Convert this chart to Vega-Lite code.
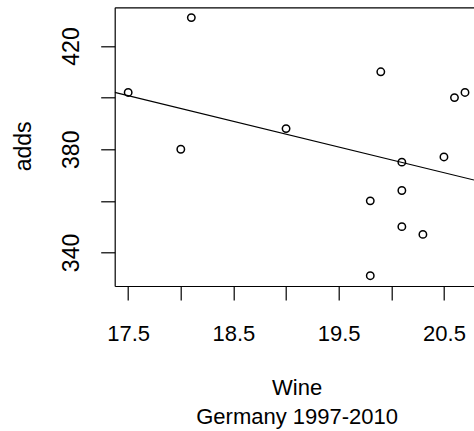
{
  "$schema": "https://vega.github.io/schema/vega-lite/v6.json",
  "width": 359.3,
  "height": 278.7,
  "autosize": {"type": "none"},
  "padding": {"left": 114.7, "top": 7.3, "right": 0, "bottom": 145},
  "background": "white",
  "config": {
    "view": {"stroke": null},
    "font": "Liberation Sans",
    "axis": {
      "grid": false,
      "domainColor": "#000000",
      "domainWidth": 1.2,
      "tickColor": "#000000",
      "tickWidth": 1.2,
      "labelColor": "#000000",
      "titleColor": "#000000",
      "labelFont": "Liberation Sans",
      "titleFont": "Liberation Sans",
      "titleFontWeight": "normal",
      "labelOverlap": false,
      "labelFlush": false,
      "labelBound": false
    }
  },
  "data": {
    "values": [
      {"year": 1997, "wine": 17.5, "adds": 402},
      {"year": 1998, "wine": 18.1, "adds": 431},
      {"year": 1999, "wine": 18.0, "adds": 380},
      {"year": 2000, "wine": 19.0, "adds": 388},
      {"year": 2001, "wine": 19.9, "adds": 410},
      {"year": 2002, "wine": 19.8, "adds": 360},
      {"year": 2003, "wine": 19.8, "adds": 331},
      {"year": 2004, "wine": 20.1, "adds": 375},
      {"year": 2005, "wine": 20.1, "adds": 364},
      {"year": 2006, "wine": 20.1, "adds": 350},
      {"year": 2007, "wine": 20.3, "adds": 347},
      {"year": 2008, "wine": 20.5, "adds": 377},
      {"year": 2009, "wine": 20.6, "adds": 400},
      {"year": 2010, "wine": 20.7, "adds": 402}
    ]
  },
  "layer": [
    {
      "mark": {"type": "point", "shape": "circle", "filled": false, "color": "#000000", "size": 55, "strokeWidth": 1.5, "opacity": 1},
      "encoding": {
        "x": {
          "field": "wine", "type": "quantitative",
          "scale": {"domain": [17.372, 20.7855], "nice": false, "zero": false},
          "axis": {
            "orient": "bottom",
            "values": [17.5, 18, 18.5, 19, 19.5, 20, 20.5],
            "format": ".1f",
            "labelExpr": "(datum.value * 2) % 2 == 1 ? datum.label : ''",
            "tickSize": 14,
            "labelFontSize": 22,
            "labelAlign": "center",
            "labelBaseline": "alphabetic",
            "labelPadding": 40,
            "title": ["Wine", "Germany 1997-2010"],
            "titleFontSize": 22,
            "titleLineHeight": 29,
            "titleAlign": "center",
            "titleBaseline": "alphabetic",
            "titleX": 181.9,
            "titleY": 108.3
          }
        },
        "y": {
          "field": "adds", "type": "quantitative",
          "scale": {"domain": [327, 435], "nice": false, "zero": false},
          "axis": {
            "values": [340, 360, 380, 400, 420],
            "labelExpr": "datum.value % 40 == 20 ? datum.label : ''",
            "tickSize": 14,
            "labelFontSize": 23,
            "labelAngle": -90,
            "labelAlign": "center",
            "labelBaseline": "alphabetic",
            "labelPadding": 22.4,
            "title": "adds",
            "titleFontSize": 23,
            "titleAngle": -90,
            "titleAlign": "center",
            "titleBaseline": "alphabetic",
            "titleX": -84.7,
            "titleY": 138.6
          }
        }
      }
    },
    {
      "transform": [{"regression": "adds", "on": "wine", "extent": [17.372, 20.7855]}],
      "mark": {"type": "line", "color": "#000000", "strokeWidth": 1.2, "clip": true},
      "encoding": {
        "x": {
          "field": "wine", "type": "quantitative",
          "axis": {"orient": "top", "labels": false, "ticks": false, "title": null, "domain": true}
        },
        "y": {"field": "adds", "type": "quantitative"}
      }
    }
  ],
  "resolve": {"axis": {"x": "independent"}}
}
